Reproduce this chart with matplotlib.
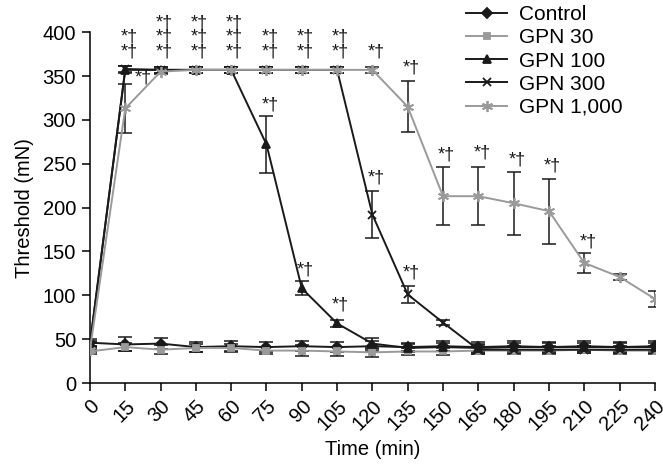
import numpy as np
import matplotlib
matplotlib.use("Agg")
import matplotlib.pyplot as plt

plt.rcParams['font.family'] = ['Liberation Sans', 'DejaVu Sans']

# time points (min)
times = [0, 15, 30, 45, 60, 75, 90, 105, 120, 135, 150, 165, 180, 195, 210, 225, 240]

# thresholds (mN) and error bars
control = [46, 44, 45, 41, 42, 41, 42, 41, 42, 41, 42, 41, 42, 41, 42, 41, 42]
control_err = [4, 8, 6, 6, 6, 6, 6, 6, 6, 5, 6, 6, 6, 6, 6, 6, 6]
gpn30 = [36, 41, 38, 40, 40, 37, 37, 36, 35, 36, 36, 37, 37, 37, 38, 37, 37]
gpn30_err = [3, 5, 5, 5, 5, 4, 6, 5, 5, 4, 4, 4, 4, 4, 4, 4, 4]
gpn100 = [45, 357, 357, 357, 357, 272, 108, 68, 45, 40, 41, 40, 41, 41, 41, 41, 41]
gpn100_err = [3, 4, 3, 3, 3, 32, 8, 4, 6, 5, 5, 5, 5, 5, 5, 5, 5]
gpn300 = [44, 358, 357, 357, 357, 357, 357, 357, 192, 101, 69, 38, 38, 38, 38, 38, 38]
gpn300_err = [3, 3, 3, 3, 3, 3, 3, 3, 27, 10, 3, 5, 4, 4, 4, 4, 4]
gpn1000 = [38, 313, 355, 357, 357, 357, 357, 357, 357, 315, 213, 213, 205, 196, 137, 121, 96]
gpn1000_err = [3, 28, 3, 3, 3, 3, 3, 3, 3, 29, 33, 33, 36, 37, 11, 3, 9]

# significance marks (*†)
sig_x = [15, 15, 21, 30, 30, 30, 45, 45, 45, 60, 60, 60, 75, 75, 75, 90, 90, 90,
         105, 105, 105, 120, 120, 135, 135, 150, 165, 180, 195, 210]
sig_y = [394, 377, 348, 410, 394, 377, 410, 394, 377, 410, 394, 377, 394, 377, 317,
         394, 377, 129, 394, 377, 89, 377, 234, 359, 125, 260, 262, 254, 247, 161]

black = '#1a1a1a'
grey = '#9a9a9a'

fig = plt.figure(figsize=(6.63, 4.66), dpi=100)
ax = fig.add_axes([0.1357, 0.178, 0.852, 0.753])

series = [
    ("Control", control, control_err, black, 'D', 5),
    ("GPN 30", gpn30, gpn30_err, grey, 's', 5),
    ("GPN 100", gpn100, gpn100_err, black, '^', 6),
    ("GPN 300", gpn300, gpn300_err, black, 'x', 6),
    ("GPN 1,000", gpn1000, gpn1000_err, grey, (6, 2, 0), 8),
]
for name, vals, err, col, mk, ms in series:
    ax.errorbar(times, vals, yerr=err, fmt='none', ecolor=black, elinewidth=1.1,
                capsize=5, capthick=1.1, zorder=2)
    ax.plot(times, vals, color=col, marker=mk, markersize=ms, linewidth=1.4,
            markeredgecolor=col, markeredgewidth=1.3, label=name, zorder=3)

for x, y in zip(sig_x, sig_y):
    ax.text(x + 1.5, y, "*\u2020", ha='center', va='center', fontsize=13, color=black)

ax.set_xlim(0, 240)
ax.set_ylim(0, 400)
ax.set_xticks(times)
ax.set_xticklabels([str(t) for t in times], rotation=45, ha='right',
                   rotation_mode='anchor', fontsize=14.5)
ax.set_yticks(range(0, 401, 50))
ax.tick_params(axis='y', labelsize=14.5, length=6, width=1.1, pad=4)
ax.tick_params(axis='x', length=6, width=1.1, pad=4)
ax.spines['top'].set_visible(False)
ax.spines['right'].set_visible(False)
ax.spines['left'].set_linewidth(1.1)
ax.spines['bottom'].set_linewidth(1.1)
ax.set_xlabel("Time (min)", fontsize=14.5, labelpad=4)
ax.set_ylabel("Threshold (mN)", fontsize=14.5, labelpad=6)

ax.legend(loc='upper right', bbox_to_anchor=(0.976, 1.13), frameon=False, fontsize=15,
          handlelength=2.0, labelspacing=0.2, handletextpad=0.55)

fig.savefig("out.png", dpi=100)
